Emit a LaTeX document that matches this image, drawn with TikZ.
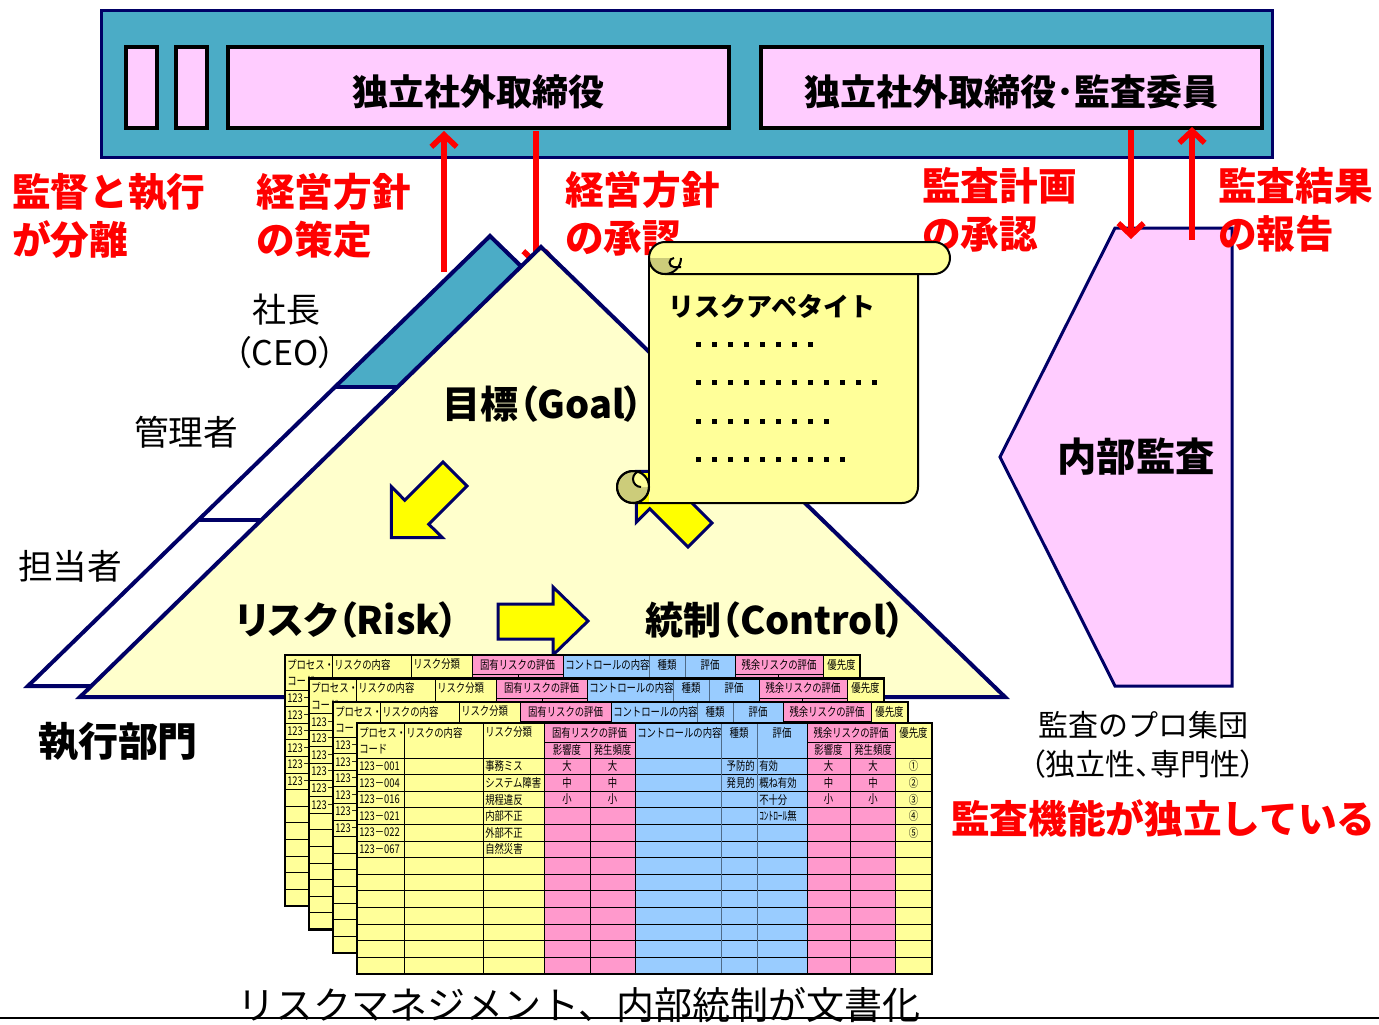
\documentclass[tikz,border=0pt]{standalone}
\usepackage{fontspec}
\setmainfont{Noto Sans CJK JP}
\newfontfamily\jpp{Noto Sans CJK JP}[RawFeature=+palt]
\newfontfamily\cellfont{Noto Sans CJK JP}[FakeStretch=0.78]
\usetikzlibrary{arrows.meta}

\newcommand\fsz[2]{\fontsize{#1pt}{#2pt}\selectfont}

\definecolor{barteal}{HTML}{4BACC6}
\definecolor{navy}{HTML}{000066}
\definecolor{boxpink}{HTML}{FFCCFF}
\definecolor{pyryellow}{HTML}{FFFFCC}
\definecolor{scrollyellow}{HTML}{FFFF99}
\definecolor{scrollshade}{HTML}{CCCC7A}
\definecolor{cellyellow}{HTML}{FFFF99}
\definecolor{cellpink}{HTML}{FF99CC}
\definecolor{cellblue}{HTML}{99CCFF}
\definecolor{arrowyellow}{HTML}{FFFF00}
\definecolor{slate}{HTML}{4F6B88}

\tikzset{
  boardbox/.style={fill=boxpink,draw=black,line width=3pt},
  boardtext/.style={inner sep=0pt,font=\bfseries\fsz{27}{32}},
  redlab/.style={inner sep=0pt,anchor=west,align=left,text=red,font=\bfseries\fsz{29}{36}},
  darklab/.style={inner sep=0pt,text=black},
  navyline/.style={draw=navy,line width=3pt},
  redarrow/.style={draw=red,line width=4.2pt,-{Straight Barb[length=9pt,width=19pt]}},
  blockarrow/.style={fill=arrowyellow,draw=navy,line width=2.25pt,line join=miter},
  scrollline/.style={draw=black,line width=1.5pt},
  cellrule/.style={draw=black,line width=0.6pt},
  bluerule/.style={draw=slate,line width=0.6pt},
  sheetframe/.style={draw=black,line width=1.8pt},
  cell/.style={inner sep=0pt,font=\cellfont\fsz{9}{10}},
}

% one risk/control worksheet; #1 name prefix, #2/#3 top-left corner,
% #4 = 1 for the sheet lying on top (all cells written)
\newcommand\drawsheet[4]{%
\begin{scope}[shift={(#2,#3)}]
  \fill[cellyellow] (0,0) rectangle (187,250.8);
  \fill[cellpink] (187,0) rectangle (278,250.8);
  \fill[cellblue] (278,0) rectangle (450,250.8);
  \fill[cellpink] (450,0) rectangle (538,250.8);
  \fill[cellyellow] (538,0) rectangle (575,250.8);
  \foreach \kk in {0,...,12}{\draw[cellrule] (0,{35+16.6*\kk}) -- (575,{35+16.6*\kk});}
  \draw[cellrule] (187,19.5) -- (278,19.5) (450,19.5) -- (538,19.5);
  \foreach \cx in {47,126,187,278,450,538}{\draw[cellrule] (\cx,0) -- (\cx,250.8);}
  \foreach \cx in {364,400}{\draw[bluerule] (\cx,0) -- (\cx,250.8);}
  \foreach \cx in {233,493}{\draw[cellrule] (\cx,19.5) -- (\cx,250.8);}
  \draw[sheetframe] (0,0) rectangle (575,250.8);
  \node[cell,anchor=west] (#1-h1) at (2,9.5) {プロセス・};
  \node[cell,anchor=west] (#1-h2) at (2,26.5) {コード};
  \node[cell,anchor=west] (#1-h3) at (49,9.5) {リスクの内容};
  \node[cell,anchor=west] (#1-h4) at (128,9.5) {リスク分類};
  \node[cell] (#1-h5) at (232.5,9.5) {固有リスクの評価};
  \node[cell,anchor=west] (#1-h8) at (280,9.5) {コントロールの内容};
  \node[cell] (#1-h9) at (382,9.5) {種類};
  \node[cell] (#1-h10) at (425,9.5) {評価};
  \node[cell] (#1-h11) at (494,9.5) {残余リスクの評価};
  \node[cell] (#1-h14) at (556.5,9.5) {優先度};
  \ifnum#4=1
  \node[cell] (#1-h6) at (210,27) {影響度};
  \node[cell] (#1-h7) at (255.5,27) {発生頻度};
  \node[cell] (#1-h12) at (471.5,27) {影響度};
  \node[cell] (#1-h13) at (516,27) {発生頻度};
  \foreach \rw/\cd/\kd in {1/001/事務ミス,2/004/システム障害,3/016/規程違反,4/021/内部不正,5/022/外部不正,6/067/自然災害}{
    \node[cell,anchor=west] (#1-cd\rw) at (2,{35+16.6*(\rw-0.5)}) {123－\cd};
    \node[cell,anchor=west] (#1-kd\rw) at (128,{35+16.6*(\rw-0.5)}) {\kd};}
  \foreach \rw/\lv in {1/大,2/中,3/小}{
    \node[cell] (#1-ia\rw) at (210,{35+16.6*(\rw-0.5)}) {\lv};
    \node[cell] (#1-ib\rw) at (255.5,{35+16.6*(\rw-0.5)}) {\lv};
    \node[cell] (#1-ra\rw) at (471.5,{35+16.6*(\rw-0.5)}) {\lv};
    \node[cell] (#1-rb\rw) at (516,{35+16.6*(\rw-0.5)}) {\lv};}
  \foreach \rw/\ty in {1/予防的,2/発見的}{
    \node[cell,anchor=east] (#1-ty\rw) at (398,{35+16.6*(\rw-0.5)}) {\ty};}
  \foreach \rw/\ev in {1/有効,2/概ね有効,3/不十分,4/ｺﾝﾄﾛｰﾙ無}{
    \node[cell,anchor=west] (#1-ev\rw) at (402,{35+16.6*(\rw-0.5)}) {\ev};}
  \foreach \rw/\pr in {1/①,2/②,3/③,4/④,5/⑤}{
    \node[cell] (#1-pr\rw) at (556.5,{35+16.6*(\rw-0.5)}) {\pr};}
  \else
  \foreach \rw in {1,...,6}{
    \node[cell,anchor=west] (#1-cd\rw) at (2,{35+16.6*(\rw-0.5)}) {123－};}
  \fi
\end{scope}}

\begin{document}
\begin{tikzpicture}[x=0.75pt,y=-0.75pt]
\useasboundingbox (0,0) rectangle (1379,1025);

% ---------- board of directors
\draw[fill=barteal,draw=navy,line width=2.25pt] (101,10) rectangle (1272,157);
\draw[boardbox] (126,47) rectangle (157,128);
\draw[boardbox] (176,47) rectangle (207,128);
\draw[boardbox] (228,47) rectangle (729,128);
\draw[boardbox] (761,47) rectangle (1262,128);
\node[boardtext] (outside) at (478.5,92) {独立社外取締役};
\node[boardtext] (auditcomm) at (1011.5,92) {独立社外取締役･監査委員};

% ---------- policy arrows between board and CEO
\coordinate (strat-s) at (444,272);
\coordinate (strat-e) at (444,131);
\coordinate (appr-s) at (536,131);
\coordinate (appr-e) at (536,267);
\draw[redarrow] (strat-s) -- (strat-e);
\draw[redarrow] (appr-s) -- (appr-e);

% ---------- management hierarchy (back layer)
\fill[white] (490,236) -- (28,686) -- (953,686) -- cycle;
\begin{scope}
  \clip (0,0) rectangle (1379,387);
  \fill[barteal] (490,236) -- (28,686) -- (953,686) -- cycle;
\end{scope}
\draw[navyline] (335,387) -- (420,387);
\draw[navyline] (198.4,520) -- (280,520);
\draw[navyline] (490,236) -- (28,686) -- (953,686) -- cycle;

% ---------- main pyramid
\draw[navyline,fill=pyryellow] (541,247) -- (80,697) -- (1005,697) -- cycle;

\node[darklab,font=\fsz{25.5}{30}] (ceo) at (286,310) {社長};
\node[darklab,font=\jpp\fsz{25.5}{30}] (ceo2) at (285,353) {（CEO）};
\node[darklab,font=\fsz{26}{30}] (mgr) at (186,432) {管理者};
\node[darklab,font=\fsz{26}{30}] (staff) at (70,566) {担当者};
\node[darklab,font=\bfseries\fsz{30}{36}] (exec) at (118,742) {執行部門};

\node[darklab,font=\jpp\bfseries\fsz{28.5}{34}] (goal) at (543,404) {目標（Goal）};
\node[darklab,font=\jpp\bfseries\fsz{28.5}{34}] (risk) at (347,620) {リスク（Risk）};
\node[darklab,font=\jpp\bfseries\fsz{28.5}{34}] (ctrl) at (775,620) {統制（Control）};

% ---------- yellow block arrows
\draw[blockarrow] (443.0,462.0) -- (404.8,500.2) -- (391.4,486.7) -- (391.4,537.6)
  -- (442.3,537.6) -- (428.8,524.2) -- (467.0,486.0) -- cycle;
\draw[blockarrow] (498,604) -- (553,604) -- (553,587) -- (588,621) -- (553,655)
  -- (553,639) -- (498,639) -- cycle;
\draw[blockarrow] (688,547) -- (649.8,508.8) -- (636.3,522.3) -- (636.4,471.4)
  -- (687.3,471.3) -- (673.8,484.8) -- (712,523) -- cycle;

% ---------- internal audit
\draw[fill=boxpink,draw=navy,line width=2.25pt] (1115,228) -- (1232,228) -- (1232,686)
  -- (1115,686) -- (1000,457) -- cycle;
\node[darklab,font=\bfseries\fsz{29.5}{34}] (ia) at (1136,457) {内部監査};

\coordinate (plan-s) at (1131,130);
\coordinate (plan-e) at (1131,239);
\coordinate (rep-s) at (1192,240);
\coordinate (rep-e) at (1192,127);
\draw[redarrow] (plan-s) -- (plan-e);
\draw[redarrow] (rep-s) -- (rep-e);

% ---------- red captions
\node[redlab] (sep) at (12,216) {監督と執行\\が分離};
\node[redlab] (plan) at (256,216) {経営方針\\の策定};
\node[redlab] (approve) at (565,213.5) {経営方針\\の承認};
\node[redlab] (auditplan) at (922,210) {監査計画\\の承認};
\node[redlab] (auditrep) at (1218,210) {監査結果\\の報告};
\node[redlab] (indep) at (951,818) {監査機能が独立している};

\node[darklab,anchor=west,font=\fsz{22.5}{28}] (pro) at (1038,725) {監査のプロ集団};
\node[darklab,anchor=west,font=\jpp\fsz{22.5}{28}] (proq) at (1030,764) {（独立性、専門性）};

% ---------- risk appetite scroll
\fill[scrollyellow] (649,258) -- (649,503) -- (902,503) arc[start angle=90,end angle=0,radius=16] -- (918,258) -- cycle;
\draw[scrollline] (649,258) -- (649,487);
\draw[scrollline] (633,503) -- (902,503) arc[start angle=90,end angle=0,radius=16] -- (918,258);
\draw[scrollline,fill=scrollyellow] (665,242) -- (934,242) arc[start angle=-90,end angle=90,radius=16]
  -- (665,274) arc[start angle=90,end angle=270,radius=16] -- cycle;
\fill[scrollshade] (681,258) arc[start angle=0,end angle=180,radius=16] -- cycle;
\fill[scrollyellow] (681,258) -- (674,258) arc[start angle=270,end angle=90,radius=4.5] -- (681,267) -- cycle;
\draw[scrollline] (681,258) arc[start angle=0,end angle=180,radius=16];
\draw[scrollline] (674,258) arc[start angle=270,end angle=90,radius=4.5] -- (681,267);
\draw[scrollline] (665,274) -- (934,274);
\draw[scrollline,fill=scrollshade] (633,487) circle[radius=16];
\begin{scope}
  \clip (633,487) circle[radius=16];
  \fill[scrollyellow] (650,471) -- (641,471) arc[start angle=270,end angle=90,radius=8] -- (650,487) -- cycle;
\end{scope}
\draw[scrollline] (641,471) arc[start angle=270,end angle=90,radius=8];
\draw[scrollline] (633,487) circle[radius=16];

\node[darklab,anchor=west,font=\bfseries\fsz{19.5}{24}] (appetite) at (668,306) {リスクアペタイト};
\foreach \yy/\nn in {344/8,382/12,421/9,459/10}{
  \foreach \ii in {1,...,\nn}{\fill ({695.5+16*(\ii-1)},{\yy-2.5}) rectangle ++(5,5);}}

% ---------- documented worksheets
\drawsheet{sa}{285}{655}{0}
\drawsheet{sb}{309}{678.5}{0}
\drawsheet{sc}{333}{702}{0}
\drawsheet{sd}{357}{723}{1}

% ---------- bottom caption
\node[darklab,font=\fsz{28.5}{34}] (doc) at (579,1005) {リスクマネジメント、内部統制が文書化};
\coordinate (rule-l) at (0,1018);
\coordinate (rule-r) at (1379,1018);
\draw[line width=1.5pt] (rule-l) -- (rule-r);
\end{tikzpicture}
\end{document}
